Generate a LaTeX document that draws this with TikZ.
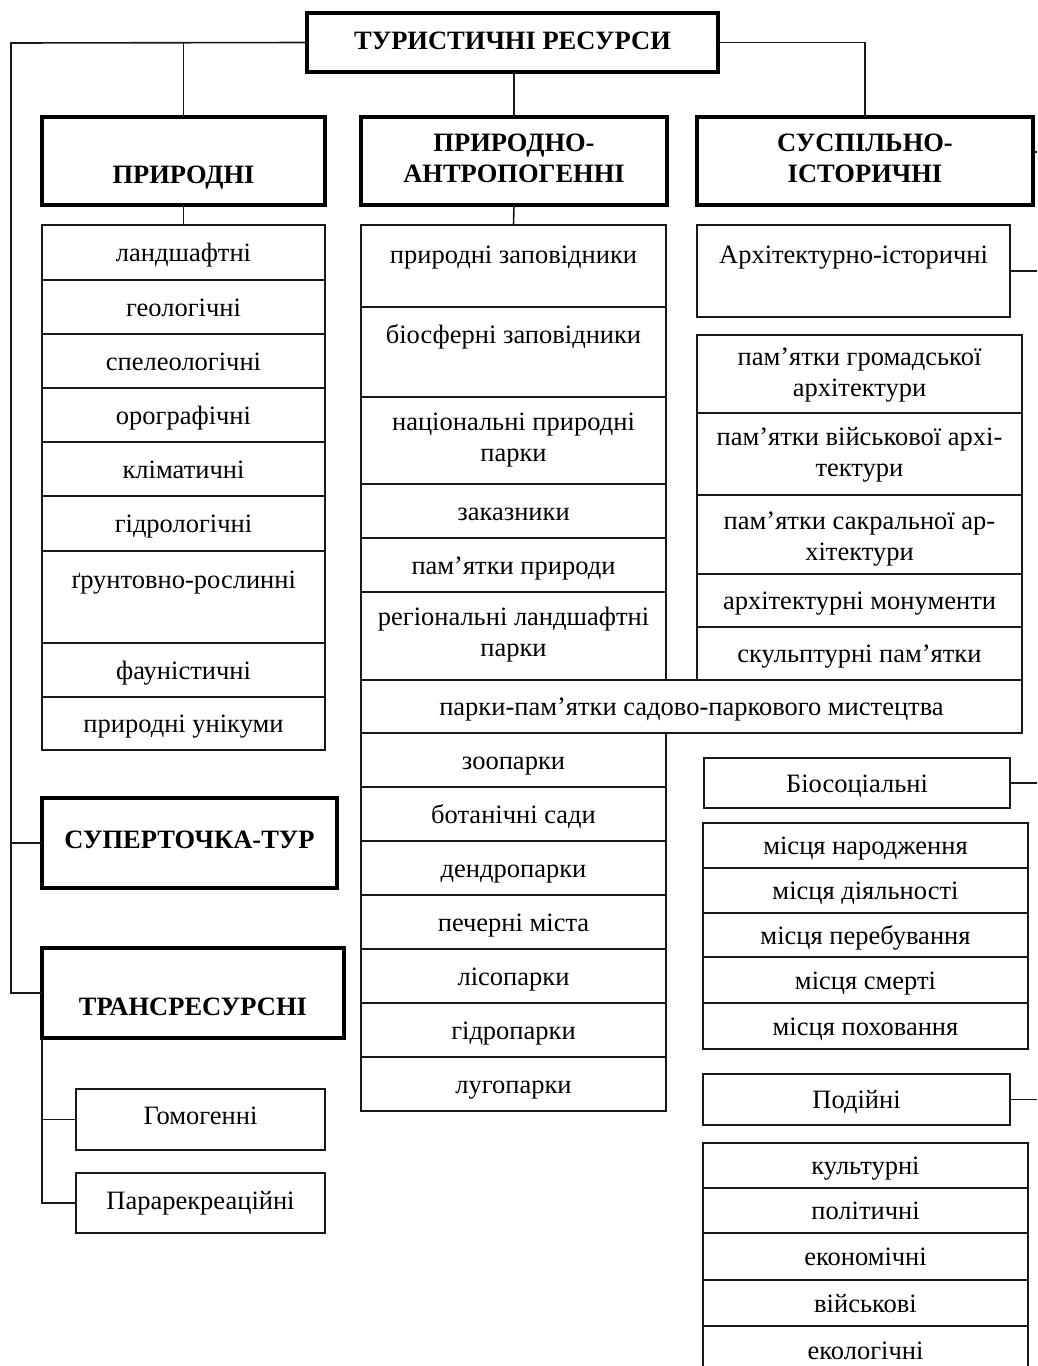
\documentclass[tikz,border=0pt]{standalone}
\usepackage{fontspec}
\setmainfont{Liberation Serif}
\newcommand\mkcell[9]{%
  \pgfmathsetmacro\mkw{#6-#4}%
  \pgfmathsetmacro\mkh{#7-#5}%
  \node[#1, anchor=north west, minimum width=\mkw pt, minimum height=\mkh pt] (#3) at (#4,-#5) {};
  \node[#2] (#3t) at ([yshift=#8pt]#3.center) {#9};
}
\tikzset{
  thinbox/.style={draw=black!90, line width=1.5pt, inner sep=0pt, outer sep=0pt, rectangle},
  thickbox/.style={draw=black, line width=3.2pt, inner sep=0pt, outer sep=0pt, rectangle},
  txt/.style={font=\fontsize{26.5}{31}\selectfont, align=center, inner sep=0pt, yshift=-3pt, execute at begin node=\strut},
  htxt/.style={font=\fontsize{26.5}{31}\selectfont\bfseries, align=center, inner sep=0pt, execute at begin node=\strut},
  conn/.style={draw=black!90, line width=1.6pt}
}
\begin{document}
\begin{tikzpicture}[x=1pt,y=1pt]
\useasboundingbox (0,0) rectangle (1037,-1366);
\clip (0,0) rectangle (1037,-1366);
\fill[white] (0,0) rectangle (1037,-1366);
% headers
\mkcell{thickbox}{htxt}{top}{307}{13}{718}{72}{-1}{ТУРИСТИЧНІ РЕСУРСИ}
\mkcell{thickbox}{htxt}{prir}{42}{117}{325}{205}{-16}{ПРИРОДНІ}
\mkcell{thickbox}{htxt}{ant}{361}{117}{667}{205}{-2}{ПРИРОДНО-\\\strut АНТРОПОГЕННІ}
\mkcell{thickbox}{htxt}{sus}{697}{117}{1033}{205}{-2}{СУСПІЛЬНО-\\\strut ІСТОРИЧНІ}
\mkcell{thickbox}{htxt}{sup}{42}{798}{337}{888}{1}{СУПЕРТОЧКА-ТУР}
\mkcell{thickbox}{htxt}{tr}{42}{948}{344}{1038}{-16}{ТРАНСРЕСУРСНІ}
% left list
\mkcell{thinbox}{txt}{l1}{42}{225}{325}{280}{0}{ландшафтні}
\mkcell{thinbox}{txt}{l2}{42}{280}{325}{334}{0}{геологічні}
\mkcell{thinbox}{txt}{l3}{42}{334}{325}{388}{0}{спелеологічні}
\mkcell{thinbox}{txt}{l4}{42}{388}{325}{442}{0}{орографічні}
\mkcell{thinbox}{txt}{l5}{42}{442}{325}{496}{0}{кліматичні}
\mkcell{thinbox}{txt}{l6}{42}{496}{325}{551}{0}{гідрологічні}
\mkcell{thinbox}{txt}{l7}{42}{551}{325}{643}{18}{ґрунтовно-рослинні}
\mkcell{thinbox}{txt}{l8}{42}{643}{325}{697}{0}{фауністичні}
\mkcell{thinbox}{txt}{l9}{42}{697}{325}{750}{0}{природні унікуми}
% middle list
\mkcell{thinbox}{txt}{m1}{361}{225}{666}{307}{12}{природні заповідники}
\mkcell{thinbox}{txt}{m2}{361}{307}{666}{397}{18}{біосферні заповідники}
\mkcell{thinbox}{txt}{m3}{361}{397}{666}{484}{2}{національні природні\\\strut парки}
\mkcell{thinbox}{txt}{m4}{361}{484}{666}{538}{0}{заказники}
\mkcell{thinbox}{txt}{m5}{361}{538}{666}{592}{0}{пам’ятки природи}
\mkcell{thinbox}{txt}{m6}{361}{592}{666}{680}{3}{регіональні ландшафтні\\\strut парки}
\mkcell{thinbox}{txt}{wide}{361}{680}{1022}{733}{0}{парки-пам’ятки садово-паркового мистецтва}
\mkcell{thinbox}{txt}{m7}{361}{733}{666}{787}{0}{зоопарки}
\mkcell{thinbox}{txt}{m8}{361}{787}{666}{841}{0}{ботанічні сади}
\mkcell{thinbox}{txt}{m9}{361}{841}{666}{895}{0}{дендропарки}
\mkcell{thinbox}{txt}{m10}{361}{895}{666}{949}{0}{печерні міста}
\mkcell{thinbox}{txt}{m11}{361}{949}{666}{1003}{0}{лісопарки}
\mkcell{thinbox}{txt}{m12}{361}{1003}{666}{1057}{0}{гідропарки}
\mkcell{thinbox}{txt}{m13}{361}{1057}{666}{1111}{0}{лугопарки}
% right column
\mkcell{thinbox}{txt}{arch}{697}{225}{1010}{317}{17}{Архітектурно-історичні}
\mkcell{thinbox}{txt}{r1}{697}{335}{1022}{413}{0}{пам’ятки громадської\\\strut архітектури}
\mkcell{thinbox}{txt}{r2}{697}{413}{1022}{495}{0}{пам’ятки військової архі-\\\strut тектури}
\mkcell{thinbox}{txt}{r3}{697}{495}{1022}{574}{-3}{пам’ятки сакральної ар-\\\strut хітектури}
\mkcell{thinbox}{txt}{r4}{697}{574}{1022}{627}{0}{архітектурні монументи}
\mkcell{thinbox}{txt}{r5}{697}{627}{1022}{680}{0}{скульптурні пам’ятки}
\mkcell{thinbox}{txt}{bio}{704}{758}{1010}{808}{0}{Біосоціальні}
\mkcell{thinbox}{txt}{b1}{703}{823}{1028}{868}{0}{місця народження}
\mkcell{thinbox}{txt}{b2}{703}{868}{1028}{913}{0}{місця діяльності}
\mkcell{thinbox}{txt}{b3}{703}{913}{1028}{957}{0}{місця перебування}
\mkcell{thinbox}{txt}{b4}{703}{957}{1028}{1003}{0}{місця смерті}
\mkcell{thinbox}{txt}{b5}{703}{1003}{1028}{1049}{0}{місця поховання}
\mkcell{thinbox}{txt}{pod}{703}{1074}{1010}{1125}{0}{Подійні}
\mkcell{thinbox}{txt}{p1}{703}{1143}{1028}{1188}{0}{культурні}
\mkcell{thinbox}{txt}{p2}{703}{1188}{1028}{1233}{0}{політичні}
\mkcell{thinbox}{txt}{p3}{703}{1233}{1028}{1280}{0}{економічні}
\mkcell{thinbox}{txt}{p4}{703}{1280}{1028}{1326}{0}{військові}
\mkcell{thinbox}{txt}{p5}{703}{1326}{1028}{1374}{0}{екологічні}
% transresource subitems
\mkcell{thinbox}{txt}{gom}{76}{1089}{325}{1150}{4}{Гомогенні}
\mkcell{thinbox}{txt}{par}{76}{1173}{325}{1233}{3}{Парарекреаційні}
% connectors
\coordinate (lc) at (11,-43);
\coordinate (edge) at (1037,0);
\draw[conn] (top.west) -- (lc) |- (tr.west);
\draw[conn] (lc |- sup.west) -- (sup.west);
\draw[conn] (prir.north) -- (prir.north |- top.west);
\draw[conn] (ant.north) -- (ant.north |- top.south);
\draw[conn] (top.east) -| (sus.north);
\draw[conn] (prir.south) -- (l1.north);
\draw[conn] (ant.south) -- (m1.north);
\draw[conn] (tr.south west) |- (gom.west);
\draw[conn] (tr.south west) |- (par.west);
\draw[conn] ([yshift=9pt]sus.east) -- ([yshift=9pt]sus.east -| edge);
\draw[conn] (arch.east) -- (arch.east -| edge);
\draw[conn] (bio.east) -- (bio.east -| edge);
\draw[conn] (pod.east) -- (pod.east -| edge);
\end{tikzpicture}
\end{document}
